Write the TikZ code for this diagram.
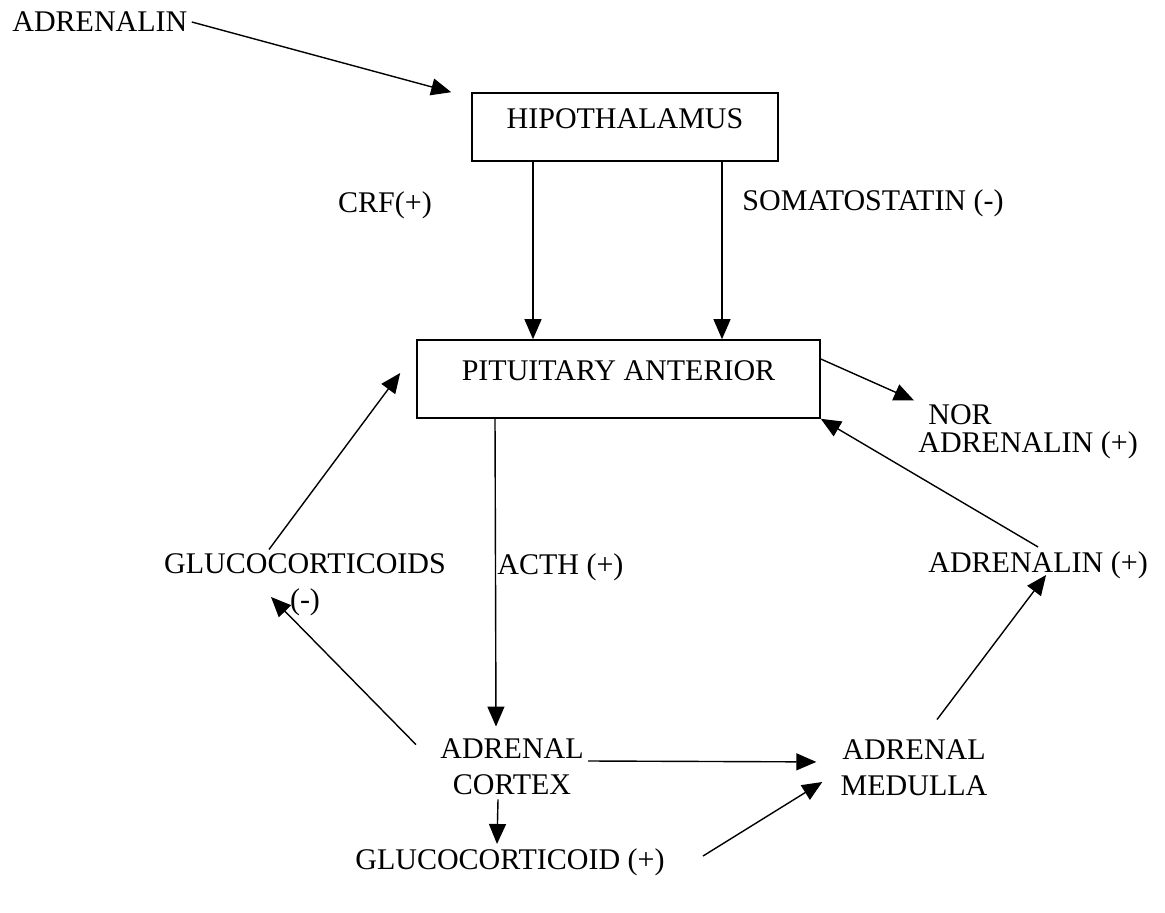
\documentclass[tikz,border=0pt]{standalone}
\usepackage{fontspec}
\setmainfont{Liberation Serif}
\usetikzlibrary{arrows.meta}

\begin{document}
\begin{tikzpicture}[x=0.5pt,y=-0.5pt,
  every node/.style={font=\fontsize{15}{18}\selectfont,inner sep=2pt},
  organ/.style={draw,line width=0.8pt,text height=10pt,text depth=8pt},
  hormone/.style={-{Triangle[length=10pt,width=8.5pt]},line width=0.7pt}]
  \useasboundingbox (0,0) rectangle (1165,913);
  \node[anchor=west] (adr) at (8,22) {ADRENALIN};
  \node[organ,minimum width=153pt,minimum height=34pt] (hypo) at (625,127) {HIPOTHALAMUS};
  \node (crf) at (385,205) {CRF(+)};
  \node[anchor=west] (soma) at (738,203) {SOMATOSTATIN (-)};
  \node[organ,minimum width=201.5pt,minimum height=39pt] (pit) at (618.5,379) {PITUITARY ANTERIOR};
  \node[anchor=west,align=left] (nor) at (914,432) {\hspace*{5pt}NOR\\[-4pt]ADRENALIN (+)};
  \node[align=center] (gluc) at (305,585) {GLUCOCORTICOIDS\\(-)};
  \node[anchor=west] (acth) at (493,567) {ACTH (+)};
  \node[anchor=west] (adr2) at (924,565) {ADRENALIN (+)};
  \node[align=center] (cortex) at (512,767) {ADRENAL\\CORTEX};
  \node[align=center] (med) at (914,768) {ADRENAL\\MEDULLA};
  \node (glucp) at (510,862) {GLUCOCORTICOID (+)};

  \draw[hormone] (adr.east) -- ([xshift=-10pt]hypo.north west);
  \draw[hormone] ([xshift=-46pt]hypo.south) -- ([xshift=-42.75pt]pit.north);
  \draw[hormone] ([xshift=48.5pt]hypo.south) -- ([xshift=51.75pt]pit.north);
  \draw[hormone] ([yshift=10pt]pit.east) -- (nor.north west);
  \draw[hormone] (adr2.north) -- (pit.south east);
  \draw[hormone] ([xshift=11.5pt,yshift=8pt]med.north) -- ([xshift=4pt,yshift=4pt]adr2.south);
  \draw[hormone] ([xshift=-61.75pt]pit.south) -- ([xshift=-8pt,yshift=4pt]cortex.north);
  \draw[hormone] ([xshift=-10pt,yshift=-5pt]cortex.north west) -- ([xshift=-17pt,yshift=-6pt]gluc.center);
  \draw[hormone] ([xshift=-18pt]gluc.north) -- ([xshift=-8pt,yshift=3pt]pit.west);
  \draw[hormone,shorten >=10pt] ([yshift=3pt]cortex.east) -- ([yshift=3pt]med.west);
  \draw[hormone] ([xshift=-7pt]cortex.south) -- ([xshift=-6.5pt]glucp.north);
  \draw[hormone] ([xshift=17pt,yshift=3pt]glucp.east) -- ([xshift=-7pt,yshift=-7pt]med.west);
\end{tikzpicture}
\end{document}
